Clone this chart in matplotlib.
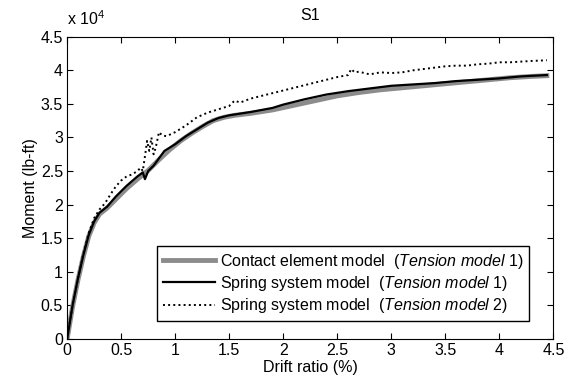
import matplotlib
matplotlib.use("Agg")
import matplotlib.pyplot as plt
from matplotlib.ticker import FuncFormatter

plt.rcParams['font.family'] = ['Liberation Sans', 'DejaVu Sans']
plt.rcParams['mathtext.fontset'] = 'custom'
plt.rcParams['mathtext.rm'] = 'Liberation Sans'
plt.rcParams['mathtext.it'] = 'Liberation Sans:italic'

# drift ratio (%) and moment (lb-ft)
drift_cem = [0, 0.05, 0.1, 0.15, 0.2, 0.25, 0.3, 0.37, 0.45, 0.55, 0.65, 0.75, 0.85, 0.95,
             1.05, 1.15, 1.25, 1.35, 1.45, 1.55, 1.7, 1.9, 2.1, 2.3, 2.5, 2.7, 2.9, 3.1,
             3.3, 3.5, 3.7, 3.9, 4.1, 4.3, 4.44]
moment_cem = [0, 4800, 8800, 12300, 15300, 17300, 18600, 19500, 20800, 22400, 23800, 25100,
              26700, 28200, 29500, 30600, 31600, 32500, 33000, 33300, 33600, 34100, 34800,
              35500, 36200, 36700, 37100, 37400, 37700, 38000, 38300, 38600, 38900, 39100, 39200]

drift_ss1 = [0, 0.05, 0.1, 0.15, 0.2, 0.25, 0.3, 0.37, 0.45, 0.55, 0.65, 0.7, 0.72, 0.75,
             0.8, 0.9, 1.0, 1.1, 1.2, 1.3, 1.4, 1.5, 1.7, 1.9, 2.0, 2.2, 2.4, 2.6, 2.8,
             3.0, 3.2, 3.4, 3.6, 3.8, 4.0, 4.2, 4.44]
moment_ss1 = [0, 5000, 9000, 12500, 15500, 17500, 18800, 19700, 21200, 22800, 24200, 24800,
              23800, 25000, 25800, 28000, 29000, 30200, 31200, 32200, 32900, 33300, 33800,
              34400, 34900, 35700, 36400, 36900, 37300, 37700, 37900, 38100, 38400, 38600,
              38800, 39100, 39300]

drift_ss2 = [0, 0.05, 0.1, 0.15, 0.2, 0.25, 0.3, 0.35, 0.4, 0.45, 0.5, 0.55, 0.6, 0.65,
             0.68, 0.7, 0.72, 0.74, 0.76, 0.78, 0.8, 0.82, 0.85, 0.88, 0.92, 0.96, 1.0,
             1.1, 1.2, 1.3, 1.4, 1.5, 1.55, 1.6, 1.7, 1.8, 2.0, 2.2, 2.4, 2.5, 2.6, 2.63,
             2.66, 2.7, 2.8, 2.9, 3.0, 3.1, 3.2, 3.3, 3.4, 3.5, 3.6, 3.7, 3.8, 3.9, 4.0,
             4.1, 4.2, 4.3, 4.44]
moment_ss2 = [0, 5000, 9000, 12700, 15800, 18000, 19300, 20200, 21500, 22700, 23600, 24200,
              24500, 25000, 25500, 25000, 27200, 29500, 28000, 30000, 27500, 28500, 30800,
              30300, 30200, 30500, 30800, 31800, 33000, 33700, 34200, 34700, 35500, 35200,
              35800, 36200, 37000, 37800, 38600, 39000, 39300, 40200, 39700, 39800, 39400,
              39700, 39600, 39700, 40000, 40200, 40400, 40600, 40700, 40700, 40900, 41000,
              41200, 41200, 41300, 41400, 41500]

labels = ['Contact element model  ($\\it{Tension\\ model\\ 1}$)',
          'Spring system model  ($\\it{Tension\\ model\\ 1}$)',
          'Spring system model  ($\\it{Tension\\ model\\ 2}$)']

fs = 11.5

fig = plt.figure(figsize=(5.74, 3.83), dpi=100)
ax = fig.add_axes([0.117, 0.115, 0.847, 0.789])

ax.plot(drift_cem, moment_cem, color='#8c8c8c', lw=3.5, label=labels[0])
ax.plot(drift_ss1, moment_ss1, color='black', lw=1.6, label=labels[1])
ax.plot(drift_ss2, moment_ss2, color='black', lw=1.4, ls=':', label=labels[2])

ax.set_xlim(0, 4.5)
ax.set_ylim(0, 45000)
ax.set_xticks([0, 0.5, 1, 1.5, 2, 2.5, 3, 3.5, 4, 4.5])
ax.set_yticks([i * 5000 for i in range(10)])
ax.xaxis.set_major_formatter(FuncFormatter(lambda v, p: '%g' % v))
ax.yaxis.set_major_formatter(FuncFormatter(lambda v, p: '%g' % (v / 1e4)))
ax.tick_params(direction='in', top=True, right=True, labelsize=fs, length=4, pad=3)
ax.text(0, 1.03, 'x 10$^4$', transform=ax.transAxes, fontsize=fs, ha='left', va='bottom')

ax.set_title('S1', fontsize=fs, pad=12)
ax.set_xlabel('Drift ratio (%)', fontsize=fs, labelpad=1)
ax.set_ylabel('Moment (lb-ft)', fontsize=fs, labelpad=2)

ax.legend(loc='lower right', bbox_to_anchor=(0.95, 0.06), fontsize=fs, frameon=True,
          fancybox=False, edgecolor='black', framealpha=1, handlelength=3.3,
          borderpad=0.35, labelspacing=0.2, handletextpad=0.3, borderaxespad=0)

fig.savefig('out.png', dpi=100)
